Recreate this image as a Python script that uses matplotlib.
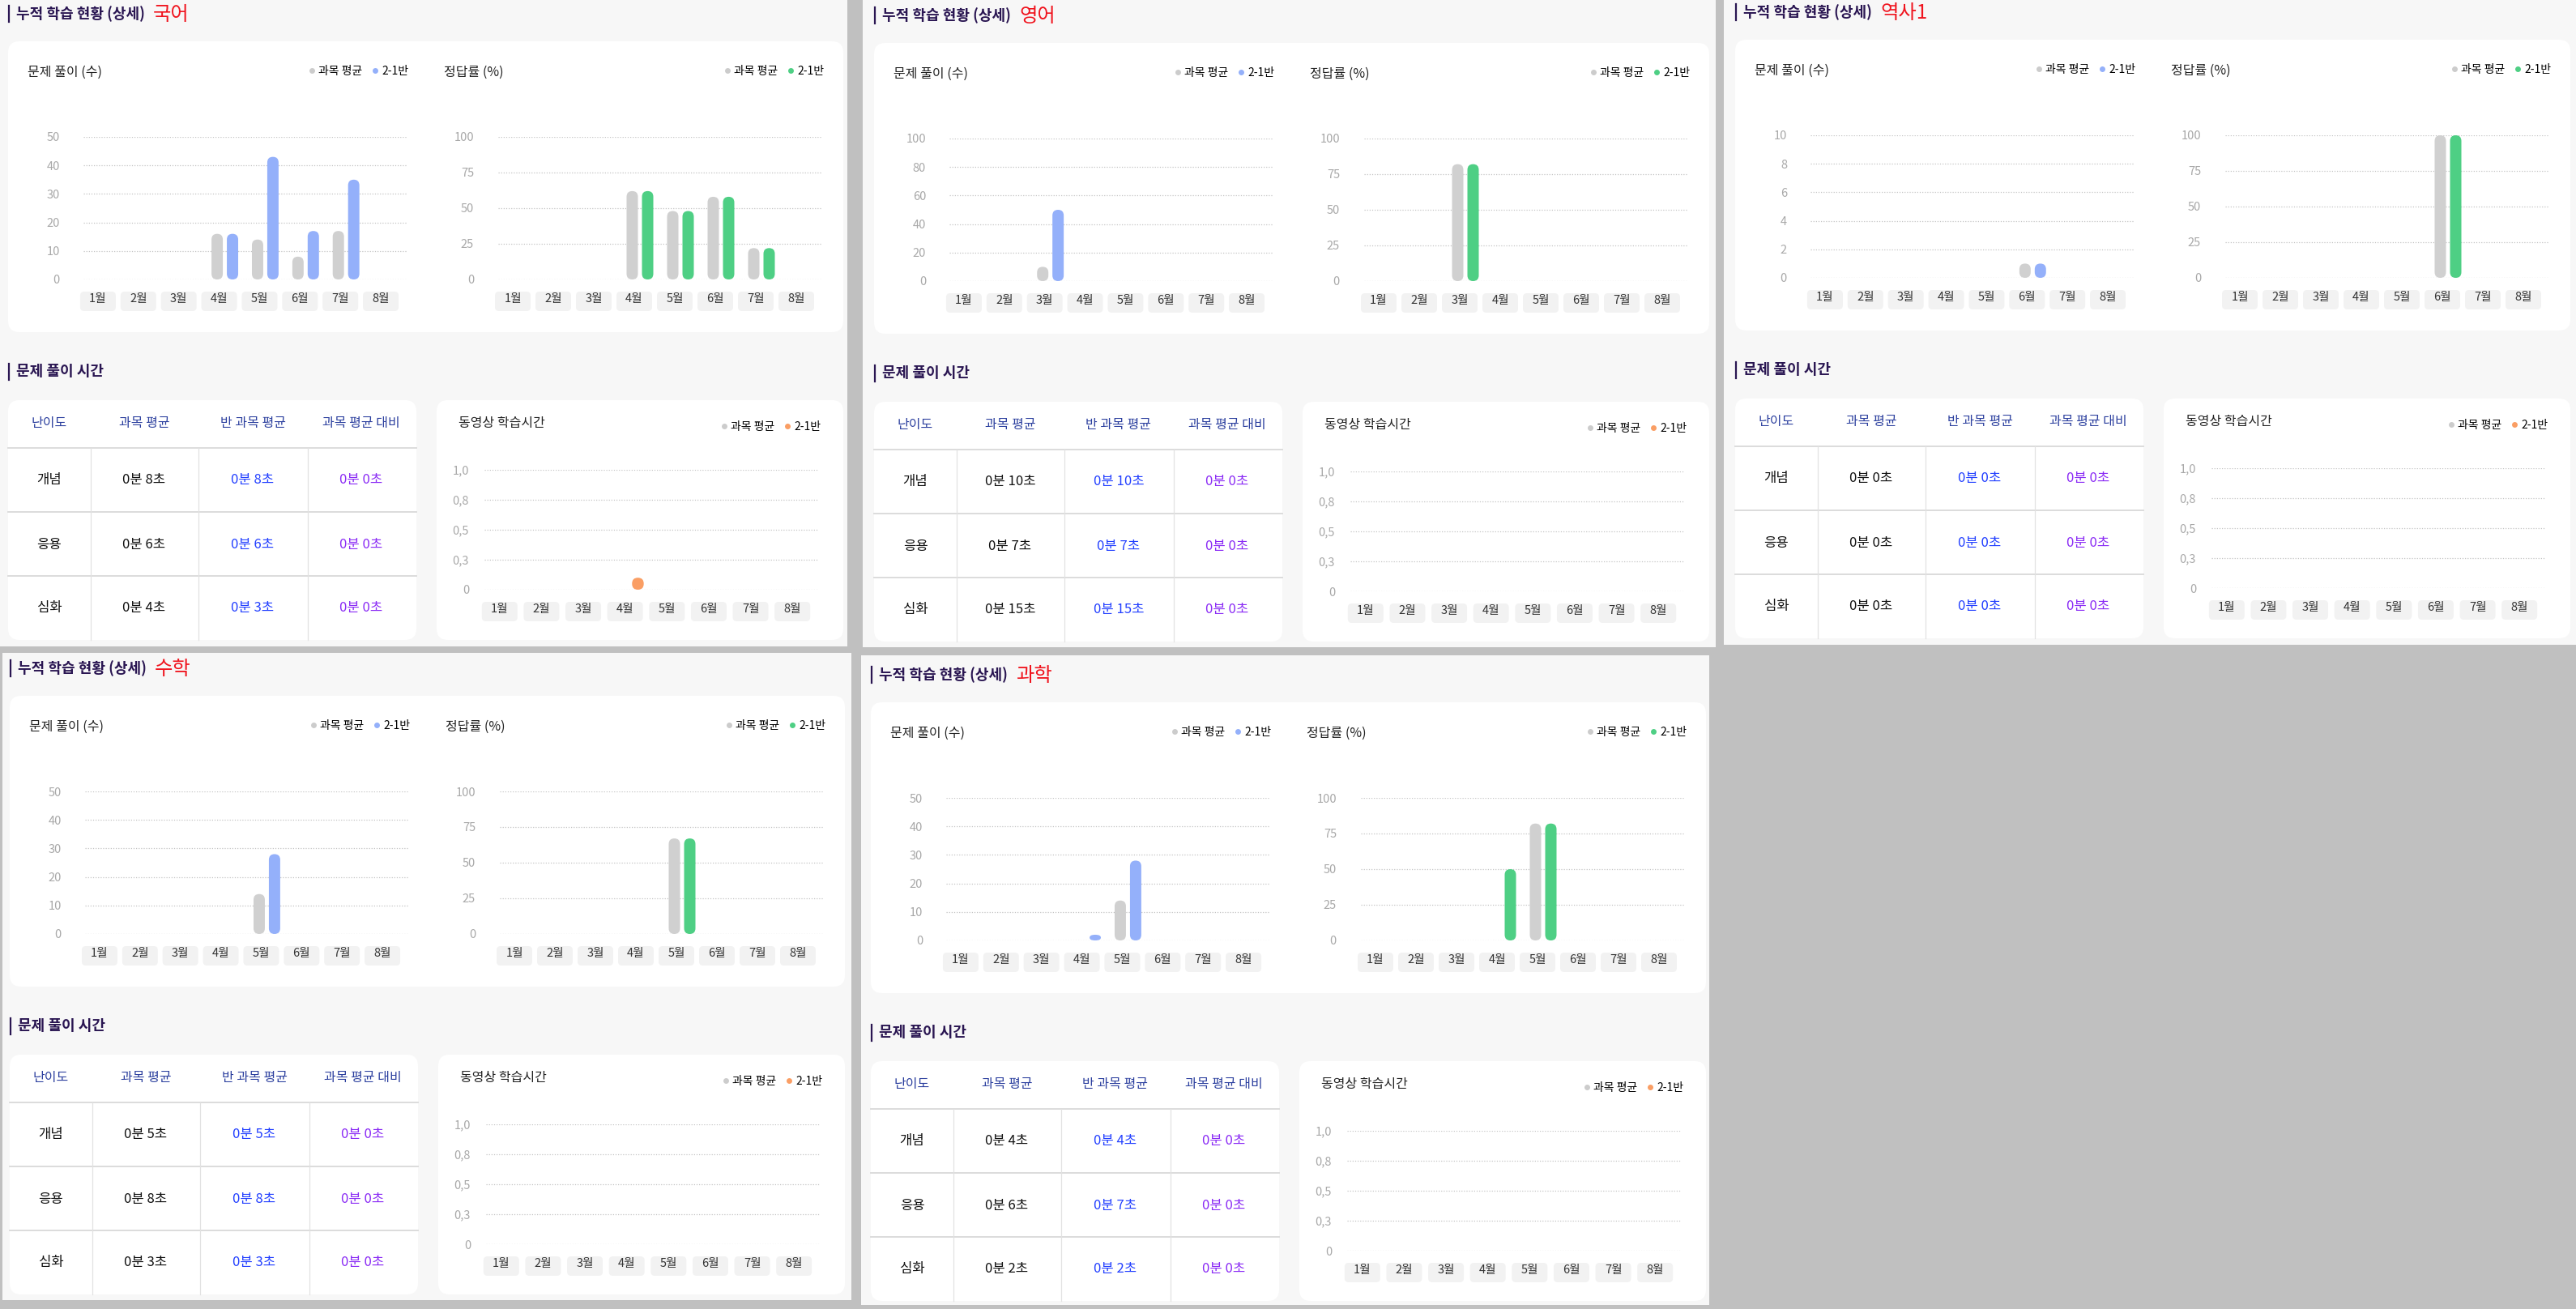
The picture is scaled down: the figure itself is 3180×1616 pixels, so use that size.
import matplotlib
matplotlib.use('Agg')
import matplotlib.pyplot as plt
from matplotlib.patches import FancyBboxPatch
from matplotlib.lines import Line2D
from matplotlib.transforms import IdentityTransform, ScaledTranslation

plt.rcParams['font.family'] = ['Noto Sans CJK KR', 'DejaVu Sans']

W, H, DPI = 3180, 1616, 100

# ---- data ----
months = ['1월', '2월', '3월', '4월', '5월', '6월', '7월', '8월']
levels = ['개념', '응용', '심화']
table_headers = ['난이도', '과목 평균', '반 과목 평균', '과목 평균 대비']

# 국어
kor_solved_avg = [0, 0, 0, 16, 14, 8, 17, 0]
kor_solved_cls = [0, 0, 0, 16, 43, 17, 35, 0]
kor_rate_avg = [0, 0, 0, 62, 48, 58, 22, 0]
kor_rate_cls = [0, 0, 0, 62, 48, 58, 22, 0]
kor_video_avg = [0, 0, 0, 0, 0, 0, 0, 0]
kor_video_cls = [0, 0, 0, 0.1, 0, 0, 0, 0]
kor_time_avg = [8, 6, 4]
kor_time_cls = [8, 6, 3]
kor_time_diff = [0, 0, 0]

# 영어
eng_solved_avg = [0, 0, 10, 0, 0, 0, 0, 0]
eng_solved_cls = [0, 0, 50, 0, 0, 0, 0, 0]
eng_rate_avg = [0, 0, 82, 0, 0, 0, 0, 0]
eng_rate_cls = [0, 0, 82, 0, 0, 0, 0, 0]
eng_video_avg = [0, 0, 0, 0, 0, 0, 0, 0]
eng_video_cls = [0, 0, 0, 0, 0, 0, 0, 0]
eng_time_avg = [10, 7, 15]
eng_time_cls = [10, 7, 15]
eng_time_diff = [0, 0, 0]

# 역사1
his_solved_avg = [0, 0, 0, 0, 0, 1, 0, 0]
his_solved_cls = [0, 0, 0, 0, 0, 1, 0, 0]
his_rate_avg = [0, 0, 0, 0, 0, 100, 0, 0]
his_rate_cls = [0, 0, 0, 0, 0, 100, 0, 0]
his_video_avg = [0, 0, 0, 0, 0, 0, 0, 0]
his_video_cls = [0, 0, 0, 0, 0, 0, 0, 0]
his_time_avg = [0, 0, 0]
his_time_cls = [0, 0, 0]
his_time_diff = [0, 0, 0]

# 수학
math_solved_avg = [0, 0, 0, 0, 14, 0, 0, 0]
math_solved_cls = [0, 0, 0, 0, 28, 0, 0, 0]
math_rate_avg = [0, 0, 0, 0, 67, 0, 0, 0]
math_rate_cls = [0, 0, 0, 0, 67, 0, 0, 0]
math_video_avg = [0, 0, 0, 0, 0, 0, 0, 0]
math_video_cls = [0, 0, 0, 0, 0, 0, 0, 0]
math_time_avg = [5, 8, 3]
math_time_cls = [5, 8, 3]
math_time_diff = [0, 0, 0]

# 과학
sci_solved_avg = [0, 0, 0, 0, 14, 0, 0, 0]
sci_solved_cls = [0, 0, 0, 2, 28, 0, 0, 0]
sci_rate_avg = [0, 0, 0, 0, 82, 0, 0, 0]
sci_rate_cls = [0, 0, 0, 50, 82, 0, 0, 0]
sci_video_avg = [0, 0, 0, 0, 0, 0, 0, 0]
sci_video_cls = [0, 0, 0, 0, 0, 0, 0, 0]
sci_time_avg = [4, 6, 2]
sci_time_cls = [4, 7, 2]
sci_time_diff = [0, 0, 0]

solved_ticks = {'국어': [0, 10, 20, 30, 40, 50], '영어': [0, 20, 40, 60, 80, 100],
                '역사1': [0, 2, 4, 6, 8, 10], '수학': [0, 10, 20, 30, 40, 50],
                '과학': [0, 10, 20, 30, 40, 50]}
rate_ticks = [0, 25, 50, 75, 100]
video_ticks = [0, 0.25, 0.5, 0.75, 1.0]
video_labels = ['0', '0,3', '0,5', '0,8', '1,0']

subjects = [
    ('국어', kor_solved_avg, kor_solved_cls, kor_rate_avg, kor_rate_cls, kor_video_avg, kor_video_cls,
     kor_time_avg, kor_time_cls, kor_time_diff),
    ('영어', eng_solved_avg, eng_solved_cls, eng_rate_avg, eng_rate_cls, eng_video_avg, eng_video_cls,
     eng_time_avg, eng_time_cls, eng_time_diff),
    ('역사1', his_solved_avg, his_solved_cls, his_rate_avg, his_rate_cls, his_video_avg, his_video_cls,
     his_time_avg, his_time_cls, his_time_diff),
    ('수학', math_solved_avg, math_solved_cls, math_rate_avg, math_rate_cls, math_video_avg, math_video_cls,
     math_time_avg, math_time_cls, math_time_diff),
    ('과학', sci_solved_avg, sci_solved_cls, sci_rate_avg, sci_rate_cls, sci_video_avg, sci_video_cls,
     sci_time_avg, sci_time_cls, sci_time_diff),
]

# panel background and card origin (pixels, from top-left)
panels = [
    ((0, 0, 1046, 798), (10, 51)),
    ((1065, 0, 2118, 799), (1079, 53)),
    ((2128, 0, 3180, 796), (2142, 49)),
    ((3, 806, 1051, 1605), (12, 859)),
    ((1063, 809, 2110, 1611), (1075, 867)),
]

GRAY = '#d0d0d0'
BLUE = '#94b0fa'
GREEN = '#4ecf84'
ORANGE = '#fa9e64'
NAVY = '#2a1652'

fig = plt.figure(figsize=(W / DPI, H / DPI), dpi=DPI)
fig.patch.set_facecolor('#c0c0c0')
ID = IdentityTransform()


def box(x0, y0, x1, y1, color, r=0, z=-5):
    fig.add_artist(FancyBboxPatch((x0, H - y1), x1 - x0, y1 - y0,
                                  boxstyle=f'round,pad=0,rounding_size={r}',
                                  transform=ID, fc=color, ec='none', zorder=z))


def line(x0, y0, x1, y1, color, lw, z=-3):
    fig.add_artist(Line2D([x0, x1], [H - y0, H - y1], transform=ID, color=color, lw=lw, zorder=z))


def txt(x, y, s, **kw):
    kw.setdefault('va', 'center')
    fig.text(x, H - y, s, transform=ID, **kw)


def fmt(sec):
    return f'{sec // 60}분 {sec % 60}초'


def rounded_bars(ax, xs, vals, color, axw, axh, ymax, width=0.28):
    bars = ax.bar(xs, vals, width=width, color=color)
    xpx = axw / 8
    ypx = axh / ymax
    for b in bars:
        h = b.get_height()
        b.remove()
        if h <= 0:
            continue
        w = b.get_width()
        rx = w / 2
        ry = min(w * xpx / 2, h * ypx / 2) / ypx
        ax.add_patch(FancyBboxPatch((b.get_x(), 0), w, h,
                                    boxstyle=f'round,pad=0,rounding_size={rx}',
                                    mutation_aspect=ry / rx, fc=color, ec='none', zorder=2))


def chart(x0, y0, w, h, ymax, yticks, ylabels, ypad, legend_color, legend_y):
    ax = fig.add_axes([x0 / W, 1 - (y0 + h) / H, w / W, h / H])
    ax.set_facecolor('none')
    ax.set_xlim(-0.5, 7.5)
    ax.set_ylim(0, ymax)
    for s in ax.spines.values():
        s.set_visible(False)
    ax.set_axisbelow(True)
    ax.set_yticks(yticks)
    ax.set_yticklabels(ylabels)
    ax.tick_params(axis='y', length=0, pad=ypad * 72 / DPI, labelsize=10.5, labelcolor='#a8a8a8')
    ax.grid(axis='y', ls=(0, (1, 1.5)), color='#c4c4c4', lw=0.9)
    ax.set_xticks(range(8))
    ax.set_xticklabels(months)
    ax.tick_params(axis='x', length=0, pad=12, labelsize=10.5, labelcolor='#333333')
    off = ScaledTranslation(-7 / DPI, 0, fig.dpi_scale_trans)
    for lab in ax.get_xticklabels():
        lab.set_transform(lab.get_transform() + off)
    for i in range(8):
        mx = x0 + (i + 0.5) * w / 8 - 7
        box(mx - 22, y0 + h + 15, mx + 22, y0 + h + 39, '#f2f2f2', r=5, z=-4)
    handles = [Line2D([], [], ls='none', marker='o', ms=5, mfc='#cccccc', mec='none', label='과목 평균'),
               Line2D([], [], ls='none', marker='o', ms=5, mfc=legend_color, mec='none', label='2-1반')]
    ax.legend(handles=handles, loc='center right', bbox_to_anchor=(1.005, legend_y), ncol=2,
              frameon=False, fontsize=10, handlelength=0.4, handletextpad=0.35,
              columnspacing=1.0, borderpad=0, borderaxespad=0)
    return ax


xs = list(range(8))
for (bg, (cx, cy)), subj in zip(panels, subjects):
    (name, s_avg, s_cls, r_avg, r_cls, v_avg, v_cls, t_avg, t_cls, t_diff) = subj
    box(bg[0], bg[1], bg[2], bg[3], '#f7f7f7', z=-6)

    # titles
    line(cx + 1, cy - 44, cx + 1, cy - 24, NAVY, 1.6)
    txt(cx + 10, cy - 34, '누적 학습 현황 (상세)', fontsize=13, color=NAVY, fontweight='bold')
    txt(cx + 179, cy - 33, name, fontsize=17.5, color='#f0141e')

    # upper card
    box(cx, cy, cx + 1031, cy + 359, 'white', r=14)
    txt(cx + 24, cy + 38, '문제 풀이 (수)', fontsize=11.5, color='#222222')
    txt(cx + 538, cy + 38, '정답률 (%)', fontsize=11.5, color='#222222')

    ticks = solved_ticks[name]
    ymax = ticks[-1]
    aw, ah = 399, 176
    ax1 = chart(cx + 93, cy + 118, aw, ah, ymax, ticks, [str(t) for t in ticks], 29, BLUE, 1.46)
    rounded_bars(ax1, [x - 0.19 for x in xs], s_avg, GRAY, aw, ah, ymax)
    rounded_bars(ax1, [x + 0.19 for x in xs], s_cls, BLUE, aw, ah, ymax)

    ax2 = chart(cx + 605, cy + 118, 400, ah, 100, rate_ticks, [str(t) for t in rate_ticks], 30, GREEN, 1.46)
    rounded_bars(ax2, [x - 0.19 for x in xs], r_avg, GRAY, 400, ah, 100)
    rounded_bars(ax2, [x + 0.19 for x in xs], r_cls, GREEN, 400, ah, 100)

    # lower section
    line(cx + 1, cy + 398, cx + 1, cy + 418, NAVY, 1.6)
    txt(cx + 10, cy + 408, '문제 풀이 시간', fontsize=13, color=NAVY, fontweight='bold')

    # table card
    ty = cy + 443
    box(cx, ty, cx + 504, cy + 739, 'white', r=14)
    col_centers = [cx + 51, cx + 168, cx + 302, cx + 436]
    for c, head in zip(col_centers, table_headers):
        txt(c, cy + 471, head, fontsize=11.5, color='#2b3f9e', ha='center')
    for ly in (cy + 502, cy + 581, cy + 660):
        line(cx, ly, cx + 504, ly, '#dcdcdc', 1.4)
    for lx in (cx + 102, cx + 235, cx + 370):
        line(lx, cy + 502, lx, cy + 739, '#e2e2e2', 0.9)
    row_y = [cy + 541, cy + 621, cy + 700]
    for i, ry in enumerate(row_y):
        txt(col_centers[0], ry, levels[i], fontsize=12, color='#111111', ha='center')
        txt(col_centers[1], ry, fmt(t_avg[i]), fontsize=12, color='#111111', ha='center')
        txt(col_centers[2], ry, fmt(t_cls[i]), fontsize=12, color='#2340ff', ha='center')
        txt(col_centers[3], ry, fmt(t_diff[i]), fontsize=12, color='#8b2cf5', ha='center')

    # video card
    box(cx + 529, ty, cx + 1031, cy + 739, 'white', r=14)
    txt(cx + 556, cy + 472, '동영상 학습시간', fontsize=11.5, color='#222222')
    vw, vh = 413, 148
    ax3 = chart(cx + 588, cy + 529, vw, vh, 1.0, video_ticks, video_labels, 19, ORANGE, 1.36)
    rounded_bars(ax3, [x - 0.17 for x in xs], v_avg, GRAY, vw, vh, 1.0)
    rounded_bars(ax3, [x + 0.17 for x in xs], v_cls, ORANGE, vw, vh, 1.0)

fig.savefig('out.png', dpi=DPI, facecolor=fig.get_facecolor())
